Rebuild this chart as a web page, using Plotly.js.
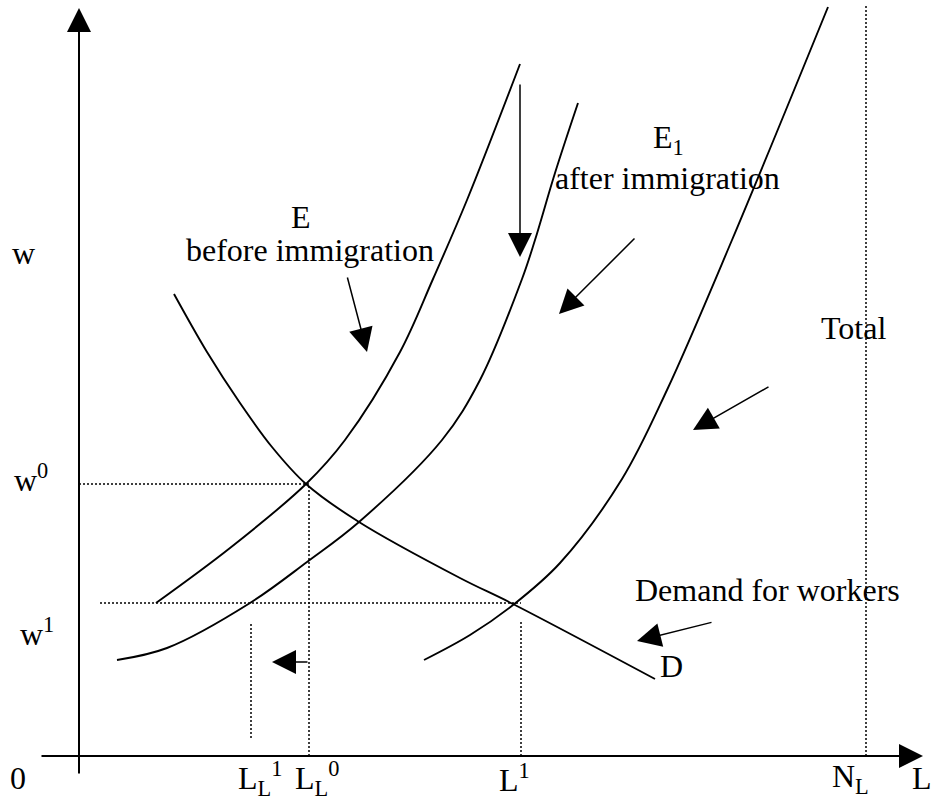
<!DOCTYPE html>
<html>
<head>
<meta charset="utf-8">
<script src="https://cdn.plot.ly/plotly-3.0.1.min.js"></script>
<style>html,body{margin:0;padding:0;background:#fff;}#chart{width:936px;height:805px;}</style>
</head>
<body>
<div id="chart"></div>
<script>
// Labour quantity L (horizontal) and wage w (vertical), origin at 0.
const demandL = [95, 128, 161, 193, 227, 280, 381, 434, 576];
const demandW = [462, 404, 353, 309, 272, 234, 178, 152, 77];

const eBeforeL = [77, 151, 227, 266, 321, 354, 388, 441];
const eBeforeW = [153, 208, 272, 316, 404, 477, 556, 692];

const eAfterL = [38, 88, 171, 228, 280, 363, 401, 443, 456, 476, 499];
const eAfterW = [96, 108, 153, 194, 234, 316, 376, 477, 516, 583, 653];

const totalL = [345, 391, 434, 481, 543, 588, 653, 749];
const totalW = [96, 121, 151, 193, 277, 366, 516, 749];

// key levels
const w0 = 272, w1 = 153;
const LL0 = 230, LL1 = 172, L1 = 442, NL = 787;
const axisTopW = 748, axisRightL = 844;

const font = {family: "Liberation Serif, Times New Roman, serif", size: 32, color: "#000"};
const curve = (x, y) => ({x, y, type: "scatter", mode: "lines",
  line: {color: "#000", width: 1.9, shape: "spline", smoothing: 1}, hoverinfo: "skip"});
const dotted = (x, y) => ({x, y, type: "scatter", mode: "lines",
  line: {color: "#000", width: 1.5, dash: "2px,2px"}, hoverinfo: "skip"});

const data = [
  curve(demandL, demandW),
  curve(eBeforeL, eBeforeW),
  curve(eAfterL, eAfterW),
  curve(totalL, totalW),
  dotted([0, LL0], [w0, w0]),
  dotted([21, L1], [w1, w1]),
  dotted([LL0, LL0], [0, w0]),
  dotted([LL1, LL1], [18, 133]),
  dotted([L1, L1], [0, 135]),
  dotted([NL, NL], [0, 751])
];

const arrow = (tipX, tipY, tailX, tailY, w) => ({
  x: tipX, y: tipY, ax: tailX, ay: tailY, xref: "x", yref: "y", axref: "x", ayref: "y",
  showarrow: true, arrowhead: 2, arrowsize: 3.2 * 1.5 / (w || 1.5), arrowwidth: w || 1.5,
  arrowcolor: "#000", standoff: 0, startstandoff: 0, text: ""
});
const label = (text, x, y, xanchor) => ({
  text, x, y, xref: "x", yref: "y", showarrow: false, font,
  xanchor: xanchor || "center", yanchor: "middle"
});

const annotations = [
  // axes
  arrow(0, axisTopW, 0, -19, 2),
  arrow(axisRightL, 0, -39, 0, 2),
  // pointers
  arrow(441, 499, 441, 673),
  arrow(288, 404, 268, 480),
  arrow(480, 442, 557, 519),
  arrow(614, 326, 691, 370),
  arrow(558, 115, 634, 134),
  arrow(193, 94, 230, 94),
  // text
  label("w", -56, 503),
  label("E", 222, 539),
  label("before immigration", 231, 506),
  label("E<sub>1</sub>", 589, 617),
  label("after immigration", 588, 578),
  label("Total", 774, 428),
  label("w<sup>0</sup>", -67, 278, "left"),
  label("w<sup>1</sup>", -61, 124, "left"),
  label("0", -61, -22),
  label("L<sub>L</sub><sup>1</sup>", 157, -22, "left"),
  label("L<sub>L</sub><sup>0</sup>", 214, -22, "left"),
  label("L<sup>1</sup>", 418, -22, "left"),
  label("N<sub>L</sub>", 751, -22, "left"),
  label("L", 843, -22),
  label("D", 592, 90),
  label("Demand for workers", 688, 166)
];

const layout = {
  width: 936, height: 805,
  margin: {l: 0, r: 0, t: 0, b: 0},
  paper_bgcolor: "#fff", plot_bgcolor: "#fff",
  showlegend: false,
  xaxis: {range: [-79, 857], visible: false, fixedrange: true},
  yaxis: {range: [-49, 756], visible: false, fixedrange: true},
  annotations
};

Plotly.newPlot("chart", data, layout, {staticPlot: true});
</script>
</body>
</html>
